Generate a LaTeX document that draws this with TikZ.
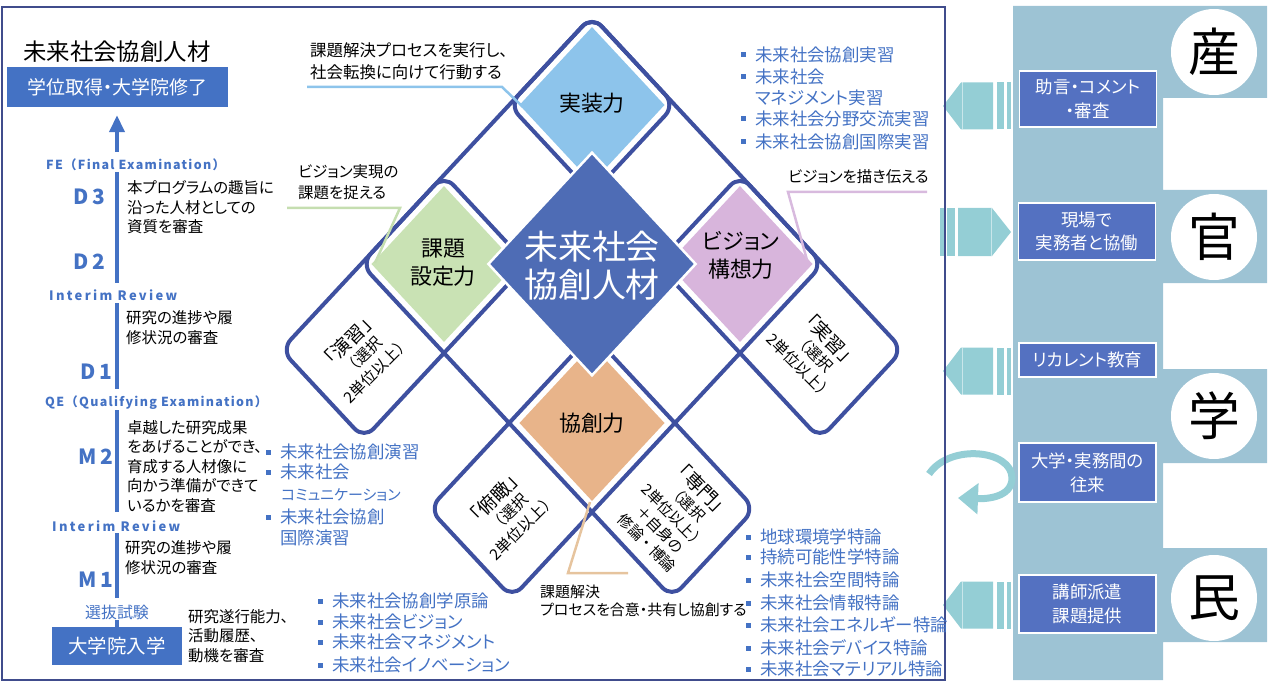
\documentclass[tikz,border=0pt]{standalone}
\usepackage{fontspec}
\setmainfont{Noto Sans CJK JP}[RawFeature={+palt}]
\newfontfamily\labfont{Noto Sans CJK JP}[LetterSpace=18]
\newfontfamily\labfontb{Noto Sans CJK JP}[LetterSpace=10.5]
\newfontfamily\fullw{Noto Sans CJK JP}
\usetikzlibrary{arrows.meta}
\definecolor{gridc}{RGB}{62,80,160}
\definecolor{corec}{RGB}{78,108,181}
\definecolor{skyf}{RGB}{141,196,235}
\definecolor{greenf}{RGB}{201,226,180}
\definecolor{purpf}{RGB}{216,181,220}
\definecolor{orangef}{RGB}{232,180,138}
\definecolor{bluetxt}{RGB}{68,114,196}
\definecolor{boxblue}{RGB}{68,114,196}
\definecolor{bandc}{RGB}{157,195,212}
\definecolor{bandboxc}{RGB}{84,113,193}
\definecolor{arrowc}{RGB}{148,206,213}
\definecolor{framec}{RGB}{64,76,140}
\definecolor{lineblue}{RGB}{141,196,235}
\definecolor{linegreen}{RGB}{197,222,176}
\definecolor{linepurp}{RGB}{216,186,222}
\definecolor{linetan}{RGB}{230,196,158}
\newcommand\fsz[2]{\fontsize{#1}{#2}\selectfont}
\newcommand\bitem[4]{\node[bul] (#1b) at ({#2-12},#3) {}; \node[bl] (#1) at (#2,#3) {#4};}
\newcommand\leftarr[1]{%
  \fill[arrowc] (943,#1) -- (961,#1-23.5) -- (993,#1-23.5) -- (993,#1+23.5) -- (961,#1+23.5) -- cycle;
  \draw[white, opacity=0.5, line width=0.8bp] (962,#1-23.5) -- (962,#1+23.5);
  \fill[arrowc] (997,#1-23.5) rectangle (1004,#1+23.5);
  \fill[arrowc] (1007,#1-23.5) rectangle (1011,#1+23.5);}
\tikzset{
  gridline/.style={draw=gridc, line width=4bp, rounded corners=14bp},
  bar/.style={draw=bluetxt, line width=4bp},
  lab/.style={text=bluetxt, font=\labfont\bfseries\fsz{13}{15}, inner sep=0, anchor=west},
  labb/.style={text=bluetxt, font=\labfontb\bfseries\fsz{12.5}{15}, inner sep=0, anchor=west},
  dlab/.style={text=bluetxt, font=\labfont\bfseries\fsz{21}{24}, inner sep=0},
  desc/.style={font=\fsz{15.5}{19.5}, align=left, inner sep=0, anchor=west},
  bl/.style={text=bluetxt, font=\fsz{17.5}{20}, inner sep=0, anchor=west},
  bul/.style={fill=bluetxt, minimum size=5bp, inner sep=0},
  bandbox/.style={fill=bandboxc, draw=white, line width=1.5bp, text=white, font=\fsz{17.5}{24}, align=center, minimum width=137bp, inner sep=0},
  kanji/.style={circle, fill=white, minimum size=86bp, inner sep=0, font=\fsz{52}{52}},
  skill/.style={font=\fsz{22}{28}, align=center, inner sep=0},
  rotlab/.style={font=\fullw\fsz{15.5}{20}, align=center, inner sep=0},
  callout/.style={font=\fsz{16.5}{22}, align=left, inner sep=0, anchor=west},
}
\begin{document}
\begin{tikzpicture}[x=1bp,y=-1bp]
\useasboundingbox (0,0) rectangle (1275,690);

% ---------- right band ----------
\fill[bandc] (1013,6) -- (1267,6) -- (1267,98) -- (1163,98) -- (1163,190) -- (1267,190) -- (1267,283) -- (1163,283) -- (1163,369) -- (1267,369) -- (1267,463) -- (1163,463) -- (1163,548) -- (1267,548) -- (1267,642) -- (1163,642) -- (1163,680) -- (1013,680) -- cycle;
\node[kanji] (san) at (1214,52) {産};
\node[kanji] (kan) at (1214,237) {官};
\node[kanji] (gaku) at (1214,416) {学};
\node[kanji] (min) at (1214,598) {民};
\node[bandbox, minimum height=56bp] (adv) at (1088,99) {助言・コメント\\・審査};
\node[bandbox, minimum height=57bp] (gen) at (1087,231.5) {現場で\\実務者と協働};
\node[bandbox, minimum height=34bp] (rec) at (1087.5,360) {リカレント教育};
\node[bandbox, minimum height=59bp] (ora) at (1087.5,472.5) {大学・実務間の\\往来};
\node[bandbox, minimum height=58bp] (kos) at (1087.5,604) {講師派遣\\課題提供};

% arrows between band and frame
\leftarr{106}
\leftarr{371}
\leftarr{605}
\fill[arrowc] (940,208) rectangle (944,256);
\fill[arrowc] (947,208) rectangle (955,256);
\fill[arrowc] (958,208) -- (992,208) -- (1011,232) -- (992,256) -- (958,256) -- cycle;
\draw[white, opacity=0.5, line width=0.8bp] (991,208) -- (991,256);
\coordinate (lp1) at (929,474);
\coordinate (lp2) at (1012,478);
\coordinate (lp3) at (958,498);
\draw[arrowc, line width=7bp, -{Triangle[length=20bp,width=30bp]}] (lp1) .. controls (950,443) and (1012,450) .. (lp2) .. controls (1012,498) and (985,499) .. (lp3);

% ---------- frame ----------
\draw[framec, line width=1.5bp] (2,7) rectangle (945,680);

% ---------- central grid ----------
\begin{scope}[shift={(592,105)}, x={(148bp,-159bp)}, y={(-148bp,-159bp)}]
  \draw[gridline] (-0.28,-0.28) -- (0.28,-0.28) -- (0.28,1.82) -- (-0.28,1.82) -- cycle;
  \draw[gridline] (-0.28,-0.28) -- (1.82,-0.28) -- (1.82,0.28) -- (-0.28,0.28) -- cycle;
  \draw[gridline] (-0.28,0.72) -- (1.82,0.72) -- (1.82,1.28) -- (-0.28,1.28) -- cycle;
  \draw[gridline] (0.72,-0.28) -- (1.28,-0.28) -- (1.28,1.82) -- (0.72,1.82) -- cycle;
  \fill[skyf] (-0.245,-0.245) -- (0.245,-0.245) -- (0.245,0.245) -- (-0.245,0.245) -- cycle;
  \fill[greenf] (-0.245,0.755) -- (0.245,0.755) -- (0.245,1.245) -- (-0.245,1.245) -- cycle;
  \fill[purpf] (0.755,-0.245) -- (1.245,-0.245) -- (1.245,0.245) -- (0.755,0.245) -- cycle;
  \fill[orangef] (0.755,0.755) -- (1.245,0.755) -- (1.245,1.245) -- (0.755,1.245) -- cycle;
  \filldraw[fill=corec, draw=white, line width=2.5bp] (0.15,0.15) -- (0.85,0.15) -- (0.85,0.85) -- (0.15,0.85) -- cycle;
\end{scope}

% callout lines
\coordinate (cb1) at (307,87); \coordinate (cb2) at (502,87); \coordinate (cb3) at (523,107);
\draw[lineblue, line width=2.5bp] (cb1) -- (cb2) -- (cb3);
\coordinate (cg1) at (287,208); \coordinate (cg2) at (400,208); \coordinate (cg3) at (375,263);
\draw[linegreen, line width=2.5bp] (cg1) -- (cg2) -- (cg3);
\coordinate (cp1) at (927,192); \coordinate (cp2) at (788,192); \coordinate (cp3) at (807,260);
\draw[linepurp, line width=2.5bp] (cp1) -- (cp2) -- (cp3);
\coordinate (ct1) at (590,502); \coordinate (ct2) at (568,573); \coordinate (ct3) at (628,573);
\draw[linetan, line width=2.5bp] (ct1) -- (ct2) -- (ct3);

% skill labels
\node[skill] (jisso) at (592,103) {実装力};
\node[skill] (kadai) at (443,263) {課題\\設定力};
\node[skill] (vision) at (741,255) {ビジョン\\構想力};
\node[skill] (kyoso) at (592,423) {協創力};
\node[font=\fsz{34}{38}, align=center, text=white, inner sep=0] (core) at (592,266) {未来社会\\協創人材};

% rotated box labels
\node[rotlab, rotate=45] (ensh) at (362,355) {{\fsz{19}{20}「演習」}\\（選択\\2単位以上）};
\node[rotlab, rotate=45] (fukan) at (508,512) {{\fsz{19}{20}「俯瞰」}\\（選択\\2単位以上）};
\node[rotlab, rotate=-45] (jissh) at (815,352) {{\fsz{19}{20}「実習」}\\（選択\\2単位以上）};
\node[rotlab, font=\fullw\fsz{15}{19}, rotate=-45] (senm) at (675,515) {{\fsz{19}{20}「専門」}\\（選択\\2単位以上）\\＋自身の\\修論・博論};

% callout texts
\node[callout] (c1) at (310,61) {課題解決プロセスを実行し、\\社会転換に向けて行動する};
\node[callout, font=\fsz{15.5}{21}] (c2) at (298,182.5) {ビジョン実現の\\課題を捉える};
\node[callout, font=\fsz{15.5}{21}] (c3) at (788,177) {ビジョンを描き伝える};
\node[callout, font=\fsz{15}{18.5}] (c4) at (540,601) {課題解決\\プロセスを合意・共有し協創する};

% bullet lists
\bitem{ur1}{755}{55}{未来社会協創実習}
\bitem{ur2}{755}{77}{未来社会}
\node[bl] (ur2x) at (755,98) {マネジメント実習};
\bitem{ur3}{755}{119}{未来社会分野交流実習}
\bitem{ur4}{755}{142}{未来社会協創国際実習}

\bitem{lm1}{280}{452}{未来社会協創演習}
\bitem{lm2}{280}{472}{未来社会}
\node[bl, font=\fsz{15}{18}] (lm2x) at (281,495) {コミュニケーション};
\bitem{lm3}{280}{517}{未来社会協創}
\node[bl] (lm3x) at (280,538) {国際演習};

\bitem{bm1}{332}{601}{未来社会協創学原論}
\bitem{bm2}{332}{622}{未来社会ビジョン}
\bitem{bm3}{332}{642}{未来社会マネジメント}
\bitem{bm4}{332}{665}{未来社会イノベーション}

\bitem{lr1}{760}{537}{地球環境学特論}
\bitem{lr2}{760}{557}{持続可能性学特論}
\bitem{lr3}{760}{580}{未来社会空間特論}
\bitem{lr4}{760}{603}{未来社会情報特論}
\bitem{lr5}{760}{625}{未来社会エネルギー特論}
\bitem{lr6}{760}{648}{未来社会デバイス特論}
\bitem{lr7}{760}{669}{未来社会マテリアル特論}

% ---------- left timeline ----------
\node[font=\fsz{23.5}{26}, inner sep=0] (title) at (117,52) {未来社会協創人材};
\node[fill=boxblue, text=white, font=\fsz{19}{22}, minimum width=221bp, minimum height=40bp, inner sep=0] (degree) at (117.5,87) {学位取得・大学院修了};
\coordinate (arrs) at (117,152);
\draw[bar, -{Triangle[length=17bp,width=15bp]}, shorten >=8bp] (arrs) -- (degree.south -| arrs);

\node[labb] (fe) at (46,165) {FE（Final Examination）};
\node[lab] (ir1) at (49,295) {Interim Review};
\node[labb] (qe) at (45,403) {QE（Qualifying Examination）};
\node[lab] (ir2) at (52,526) {Interim Review};
\node[text=bluetxt, font=\fsz{16}{18}, inner sep=0] (sel) at (117,612) {選抜試験};
\node[fill=boxblue, text=white, font=\fsz{19.5}{22}, minimum width=130bp, minimum height=38bp, inner sep=0] (entry) at (117,646) {大学院入学};

\coordinate (b1t) at (117,172); \coordinate (b1b) at (117,283);
\coordinate (b2t) at (117,303); \coordinate (b2b) at (117,389);
\coordinate (b3t) at (117,410); \coordinate (b3b) at (117,512);
\coordinate (b4t) at (117,533); \coordinate (b4b) at (117,598);
\coordinate (b5t) at (117,620);
\draw[bar] (b1t) -- (b1b);
\draw[bar] (b2t) -- (b2b);
\draw[bar] (b3t) -- (b3b);
\draw[bar] (b4t) -- (b4b);
\draw[bar] (b5t) -- (entry.north);

\node[dlab] (d3) at (89,197) {D3};
\node[dlab] (d2) at (89,262) {D2};
\node[dlab] (d1) at (96,372) {D1};
\node[dlab] (m2) at (96,457) {M2};
\node[dlab] (m1) at (96,580) {M1};

\node[desc] (d3t) at (127,207.5) {本プログラムの趣旨に\\沿った人材としての\\資質を審査};
\node[desc] (d1t) at (126,327.5) {研究の進捗や履\\修状況の審査};
\node[desc] (m2t) at (127,466.5) {卓越した研究成果\\をあげることができ、\\育成する人材像に\\向かう準備ができて\\いるかを審査};
\node[desc] (m1t) at (125,557.5) {研究の進捗や履\\修状況の審査};
\node[desc] (ent) at (188,636) {研究遂行能力、\\活動履歴、\\動機を審査};
\end{tikzpicture}
\end{document}
